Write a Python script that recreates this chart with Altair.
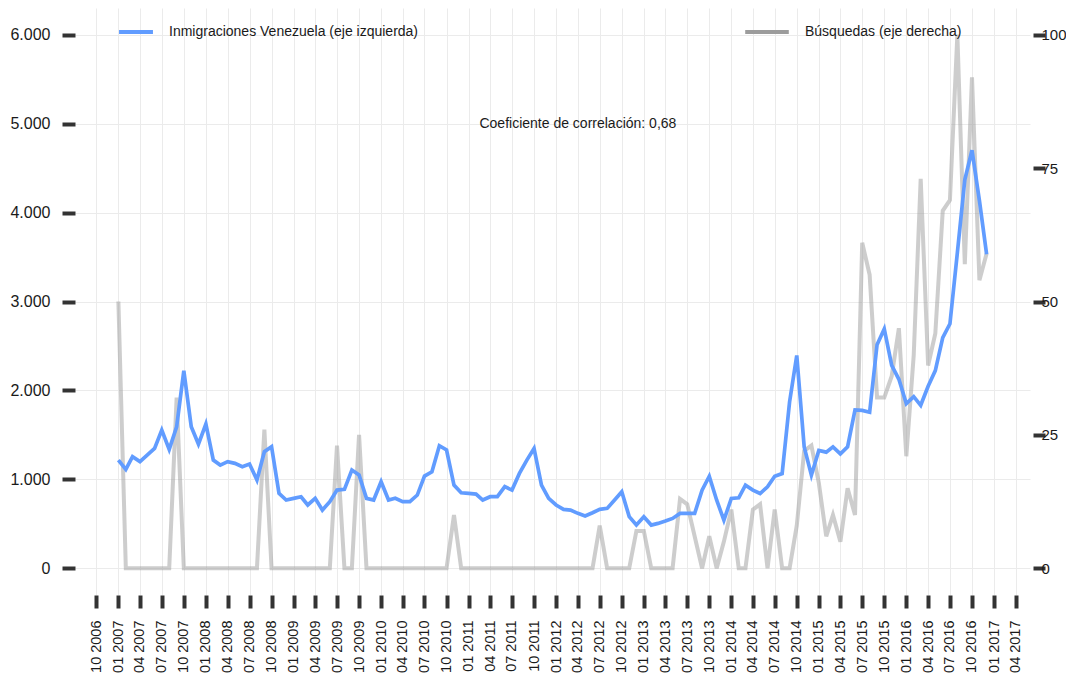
import altair as alt
import pandas as pd

# ---------------- data ----------------
inicio = "2007-01-01"
n_meses = 120
fechas = pd.date_range(inicio, periods=n_meses, freq="MS").strftime("%Y-%m-%dT00:00:00").tolist()

inmigraciones = [
    1217, 1112, 1255, 1200, 1273, 1348, 1554, 1337, 1592, 2221, 1592, 1397,
    1622, 1217, 1161, 1200, 1180, 1142, 1172, 993, 1311, 1367, 843, 768,
    787, 805, 712, 787, 655, 749, 880, 888, 1105, 1049, 787, 768,
    974, 768, 787, 749, 749, 824, 1037, 1086, 1378, 1330, 936, 850,
    843, 835, 768, 805, 805, 918, 880, 1067, 1217, 1348, 936, 787,
    712, 663, 655, 618, 588, 625, 663, 674, 768, 861, 581, 487,
    580, 486, 505, 531, 561, 617, 617, 617, 879, 1035, 766, 542,
    785, 793, 935, 879, 841, 916, 1035, 1065, 1869, 2393, 1364, 1047,
    1326, 1306, 1365, 1287, 1365, 1780, 1775, 1755, 2515, 2691, 2281, 2125,
    1852, 1930, 1833, 2047, 2223, 2593, 2749, 3549, 4368, 4700, 4134, 3530,
]

busquedas = [
    50, 0, 0, 0, 0, 0, 0, 0, 32, 0, 0, 0,
    0, 0, 0, 0, 0, 0, 0, 0, 26, 0, 0, 0,
    0, 0, 0, 0, 0, 0, 23, 0, 0, 25, 0, 0,
    0, 0, 0, 0, 0, 0, 0, 0, 0, 0, 10, 0,
    0, 0, 0, 0, 0, 0, 0, 0, 0, 0, 0, 0,
    0, 0, 0, 0, 0, 0, 8, 0, 0, 0, 0, 7,
    7, 0, 0, 0, 0, 13, 12, 6, 0, 6, 0, 5,
    11, 0, 0, 11, 12, 0, 11, 0, 0, 8, 22, 23,
    16, 6, 10, 5, 15, 10, 61, 55, 32, 32, 36, 45,
    21, 40, 73, 38, 44, 67, 69, 100, 57, 92, 54, 59,
]

serie_inm = "Inmigraciones Venezuela (eje izquierda)"
serie_bus = "Búsquedas (eje derecha)"

eje_izq_valores = [0, 1000, 2000, 3000, 4000, 5000, 6000]
eje_der_valores = [0, 25, 50, 75, 100]

anot_fecha = ["2012-04-01T00:00:00"]
anot_valor = [5000]
anot_texto = ["Coeficiente de correlación: 0,68"]

# quarterly ticks from 10 2006 to 04 2017
ticks_x = []
y, m = 2006, 10
while (y, m) <= (2017, 4):
    ticks_x.append(alt.DateTime(year=y, month=m, date=1))
    m += 3
    if m > 12:
        m -= 12
        y += 1

df = pd.DataFrame({
    "fecha": fechas,
    "inm": inmigraciones,
    "bus": busquedas,
    "s_inm": [serie_inm] * n_meses,
    "s_bus": [serie_bus] * n_meses,
})
df_anot = pd.DataFrame({"fecha": anot_fecha, "inm": anot_valor, "texto": anot_texto})

FONT = "Liberation Sans"
TXT = "#1a1a1a"
TICK = "#333333"
GRID = "#ebebeb"

x_enc = alt.X(
    "fecha:T",
    title=None,
    scale=alt.Scale(domain=[alt.DateTime(year=2006, month=7, date=4),
                            alt.DateTime(year=2017, month=5, date=31)]),
    axis=alt.Axis(
        values=ticks_x, format="%m %Y", labelAngle=270, labelAlign="right",
        labelBaseline="middle", labelFontSize=14.5, labelColor=TXT, labelFont=FONT,
        labelPadding=12, tickSize=13, tickWidth=4, tickColor=TICK, domain=False,
        grid=True, gridColor=GRID, gridWidth=1, labelOverlap=False, labelFlush=False,
    ),
)

y_izq = alt.Y(
    "inm:Q",
    title=None,
    scale=alt.Scale(domain=[-300, 6300], nice=False, zero=False),
    axis=alt.Axis(
        orient="left", values=eje_izq_valores,
        labelExpr="replace(format(datum.value, ','), ',', '.')",
        labelFontSize=16, labelColor=TXT, labelFont=FONT, labelPadding=12,
        tickSize=13, tickWidth=4, tickColor=TICK, domain=False,
        grid=True, gridColor=GRID, gridWidth=1,
    ),
)

y_der = alt.Y(
    "bus:Q",
    title=None,
    scale=alt.Scale(domain=[-5, 105], nice=False, zero=False),
    axis=alt.Axis(
        orient="right", values=eje_der_valores, offset=3,
        labelFontSize=15, labelColor=TXT, labelFont=FONT, labelPadding=-4,
        tickSize=12, tickWidth=4, tickColor=TICK, domain=False, grid=False,
    ),
)

linea_bus = alt.Chart(df).mark_line(strokeWidth=4, opacity=0.5).encode(
    x=x_enc,
    y=y_der,
    color=alt.Color(
        "s_bus:N",
        scale=alt.Scale(domain=[serie_bus], range=["#9c9c9c"]),
        legend=alt.Legend(
            title=None, orient="none", legendX=668, legendY=0, padding=0,
            symbolType="stroke", symbolStrokeWidth=4, symbolSize=1900,
            symbolOpacity=1, labelFontSize=14, labelFont=FONT, labelColor=TXT,
            labelOffset=14, labelLimit=500,
        ),
    ),
)

linea_inm = alt.Chart(df).mark_line(strokeWidth=3.7).encode(
    x=x_enc,
    y=y_izq,
    color=alt.Color(
        "s_inm:N",
        scale=alt.Scale(domain=[serie_inm], range=["#619CFF"]),
        legend=alt.Legend(
            title=None, orient="none", legendX=42, legendY=5, padding=0,
            symbolType="stroke", symbolStrokeWidth=4, symbolSize=1150,
            labelFontSize=14, labelFont=FONT, labelColor=TXT, labelOffset=14,
            labelLimit=500,
        ),
    ),
)

anotacion = alt.Chart(df_anot).mark_text(
    fontSize=14, font=FONT, color=TXT, align="center", baseline="middle"
).encode(x=x_enc, y=y_izq, text="texto:N")

izq = alt.layer(linea_inm, anotacion)

chart = alt.layer(linea_bus, izq).resolve_scale(
    y="independent", color="independent"
).properties(
    width=955, height=587,
    autosize=alt.AutoSizeParams(type="none"),
    padding={"left": 67, "top": 0, "right": 36, "bottom": 80},
    background="white",
).configure_view(stroke=None)

chart.save("out.html", embed_options={"renderer": "svg", "actions": False})
